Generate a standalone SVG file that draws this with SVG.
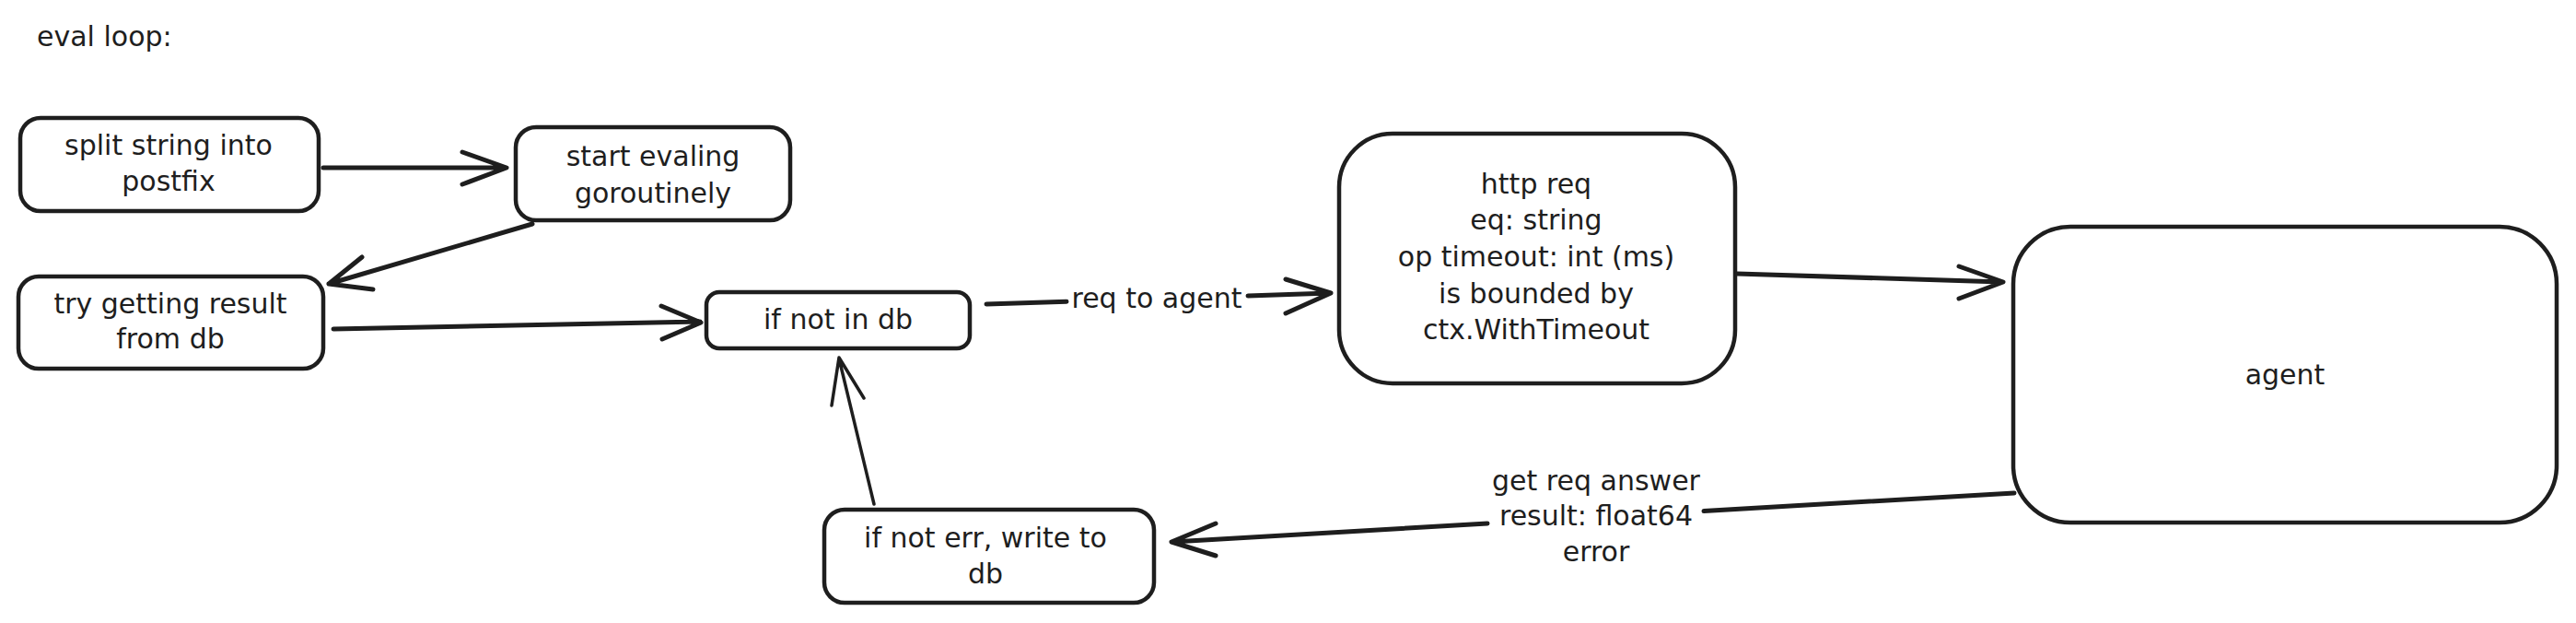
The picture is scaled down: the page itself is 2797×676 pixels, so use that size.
<svg xmlns="http://www.w3.org/2000/svg" width="2797" height="676" viewBox="0 0 2797 676">
<style>
.box{fill:#ffffff;stroke:#1e1e1e;stroke-width:4.5}
.t{font-family:"DejaVu Sans","Liberation Sans",sans-serif;font-size:30px;fill:#1e1e1e;text-anchor:middle}
.tl{font-family:"DejaVu Sans","Liberation Sans",sans-serif;font-size:30px;fill:#1e1e1e}
.ln{fill:none;stroke:#1e1e1e;stroke-width:5;stroke-linecap:round;stroke-linejoin:round}
.thin{fill:none;stroke:#1e1e1e;stroke-width:3.5;stroke-linecap:round;stroke-linejoin:round}
</style>
<rect width="2797" height="676" fill="#ffffff"/>
<text id="title" class="tl" x="40" y="50">eval loop:</text>
<g id="split">
<rect class="box" x="22" y="128" width="324" height="101" rx="22"/>
<text class="t" x="183" y="168">split string into</text>
<text class="t" x="183" y="207">postfix</text>
</g>
<g id="start">
<rect class="box" x="560" y="138" width="298" height="101" rx="22"/>
<text class="t" x="709" y="180">start evaling</text>
<text class="t" x="709" y="220">goroutinely</text>
</g>
<g id="try">
<rect class="box" x="20" y="300" width="331" height="100" rx="22"/>
<text class="t" x="185" y="340">try getting result</text>
<text class="t" x="185" y="378">from db</text>
</g>
<g id="notindb">
<rect class="box" x="767" y="317" width="286" height="61" rx="14"/>
<text class="t" x="910" y="357">if not in db</text>
</g>
<g id="http">
<rect class="box" x="1454" y="145" width="430" height="271" rx="58"/>
<text class="t" x="1668" y="210">http req</text>
<text class="t" x="1668" y="249">eq: string</text>
<text class="t" x="1668" y="289">op timeout: int (ms)</text>
<text class="t" x="1668" y="329">is bounded by</text>
<text class="t" x="1668" y="368">ctx.WithTimeout</text>
</g>
<g id="agent">
<rect class="box" x="2186" y="246" width="590" height="321" rx="62"/>
<text class="t" x="2481" y="417">agent</text>
</g>
<g id="writedb">
<rect class="box" x="895" y="553" width="358" height="101" rx="22"/>
<text class="t" x="1070" y="594">if not err, write to</text>
<text class="t" x="1070" y="633">db</text>
</g>
<g id="connectors">
<path class="ln" d="M351 182 L549 182 M502 165 L550 182 L502 200"/>
<path class="ln" d="M578 243 L357 308 M393 279 L357 308 L405 314"/>
<path class="ln" d="M362 357 L760 349 M718 332 L761 350 L719 368"/>
<path class="ln" d="M1071 330 L1158 327.3 M1355 321 L1444 318 M1396 303 L1445 318 L1396 340"/>
<text class="t" x="1256" y="334">req to agent</text>
<path class="ln" d="M2187 535 L1850 554.5 M1615 568 L1273 588 M1320 568 L1272 588 L1320 603"/>
<text class="t" x="1733" y="532">get req answer</text>
<text class="t" x="1733" y="570">result: float64</text>
<text class="t" x="1733" y="609">error</text>
<path class="ln" d="M1886 297 L2174 306 M2127 289 L2175 306 L2127 324"/>
<path class="thin" d="M949 547 L911 389 M903 440 L911 388 L938 432"/>
</g>
</svg>
